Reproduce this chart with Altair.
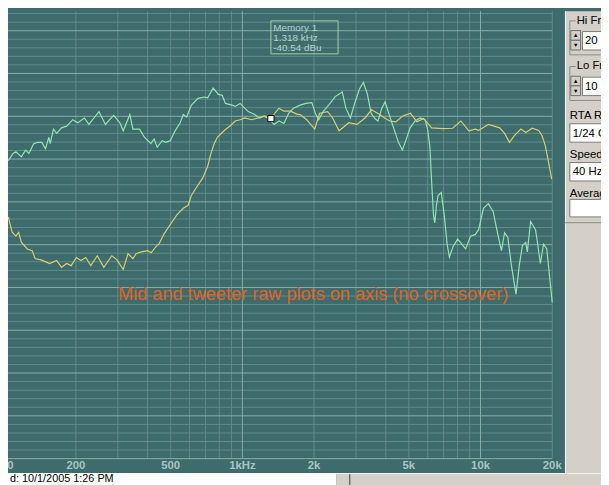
import altair as alt
import pandas as pd

# ---------------- data ----------------
MID_HZ = [104, 109, 112, 118, 123, 127, 133, 138, 144, 149, 154, 156, 161, 166, 174, 183, 194, 204, 217, 227,
          238, 250, 266, 288, 306, 316, 337, 347, 370, 388, 413, 426, 439, 461, 476, 498, 522, 548, 565, 583,
          611, 651, 693, 715, 754, 793, 823, 849, 905, 933, 978, 1058, 1126, 1180, 1237, 1293, 1359, 1425, 1494, 1565,
          1641, 1748, 1849, 1957, 2032, 2090, 2190, 2318, 2453, 2627, 2720, 2843, 2961, 3103, 3222, 3345, 3474, 3607,
          3710, 3852, 3974, 4116, 4315, 4523, 4696, 4876, 5062, 5307, 5579, 5848, 5998, 6130, 6229, 6347, 6425, 6528,
          6634, 6844, 7040, 7242, 7400, 7662, 8009, 8340, 8659, 9078, 9515, 9815, 10287, 10784, 11303, 11703, 12234,
          12620, 13018, 13482, 14092, 14537, 14996, 15484, 15719, 16230, 17011, 17383, 17830, 18393, 18974, 19461, 20000]
MID_DB = [-50.4, -48.7, -48.3, -49.5, -47.9, -48.7, -46.4, -46.1, -46.1, -47.6, -44.9, -46.4, -43.0, -44.0, -42.7,
          -42.3, -40.8, -41.5, -40.4, -41.9, -40.4, -38.9, -41.9, -39.8, -41.5, -43.4, -39.6, -43.0, -43.0, -44.9,
          -46.4, -45.3, -47.2, -45.7, -46.1, -45.7, -43.4, -41.5, -39.6, -40.2, -37.4, -35.8, -35.5, -35.7, -33.4,
          -34.9, -35.1, -37.0, -37.4, -37.7, -37.0, -38.9, -39.6, -40.4, -40.0, -40.6, -41.9, -41.1, -41.7, -39.3,
          -38.1, -37.4, -37.0, -36.8, -39.5, -40.8, -38.8, -37.2, -35.4, -34.3, -38.1, -40.4, -37.0, -33.6, -32.1,
          -34.7, -39.3, -40.6, -41.1, -38.1, -36.6, -39.3, -42.7, -46.1, -47.9, -45.4, -42.7, -41.1, -40.4, -40.8,
          -43.1, -47.2, -55.1, -63.1, -64.9, -60.8, -58.5, -57.8, -63.1, -69.9, -72.9, -70.5, -68.7, -69.9, -71.0,
          -68.0, -67.6, -66.5, -61.5, -60.4, -62.3, -66.5, -71.4, -67.2, -68.3, -74.9, -81.6, -74.9, -70.2, -69.5,
          -71.7, -64.6, -66.5, -69.9, -74.4, -69.9, -71.0, -77.1, -83.5]

TW_HZ = [104, 108, 112, 115, 118, 125, 131, 135, 142, 148, 155, 166, 174, 183, 191, 201, 210, 220, 231, 246,
         262, 283, 297, 316, 331, 347, 358, 376, 400, 414, 433, 446, 468, 498, 530, 565, 592, 611, 640, 682,
         715, 737, 761, 785, 823, 849, 890, 933, 978, 1025, 1092, 1163, 1237, 1318, 1381, 1425, 1494, 1592, 1694,
         1748, 1862, 2013, 2110, 2282, 2392, 2547, 2799, 3027, 3275, 3485, 3772, 3954, 4155, 4411, 4696, 5077,
         5409, 5762, 6229, 6956, 7643, 8262, 8932, 9515, 9815, 10784, 12038, 12620, 13230, 13867, 14768, 15484,
         16478, 17547, 18103, 18692, 19282, 19892]
TW_DB = [-63.5, -67.1, -68.0, -67.1, -69.4, -71.0, -71.4, -73.3, -73.5, -73.9, -74.4, -73.7, -75.3, -74.4, -74.9,
         -73.0, -73.7, -73.0, -74.9, -72.6, -75.3, -72.6, -73.5, -75.8, -72.1, -73.3, -72.1, -71.7, -71.4, -71.9,
         -70.5, -69.9, -67.6, -65.3, -63.1, -61.5, -60.8, -58.5, -56.7, -54.4, -51.7, -48.8, -46.5, -44.9, -43.8,
         -43.1, -42.2, -41.1, -40.8, -40.4, -40.8, -40.4, -39.9, -40.54, -39.0, -38.1, -38.8, -38.8, -39.5, -39.6,
         -40.8, -43.0, -39.3, -38.9, -40.4, -43.4, -41.5, -41.9, -40.4, -38.5, -39.6, -40.4, -41.1, -41.3, -40.0,
         -39.3, -41.3, -40.5, -42.7, -42.9, -42.8, -41.1, -43.4, -43.0, -43.3, -41.9, -42.7, -44.0, -46.1, -44.5,
         -43.0, -43.8, -42.8, -43.3, -44.5, -46.8, -50.6, -54.7]

TICK_HZ = [100, 200, 500, 1000, 2000, 5000, 10000, 20000]
TICK_LABELS = ["100", "200", "500", "1kHz", "2k", "5k", "10k", "20k"]
MAJOR_HZ = [100, 1000, 10000]
MINOR_HZ = [200, 300, 400, 500, 600, 700, 800, 900, 2000, 3000, 4000, 5000, 6000, 7000, 8000, 9000, 20000]
MAJOR_DB = [-20, -30, -40, -50, -60, -70, -80, -90, -100, -110, -120]
MINOR_DB = [d for d in range(-118, -14, 2) if d % 10 != 0]

MEMORY_HZ = 1318
MEMORY_DB = -40.54
MEMORY_LINES = ["Memory 1", "1.318 kHz", "-40.54 dBu"]
NOTE = "Mid and tweeter raw plots on axis (no crossover)"

# ---------------- layout / style ----------------
W, H = 601, 477
SX, SY = W / 609, H / 485
F_MIN, F_MAX = 103.75, 32048
DB_MIN, DB_MAX = -125.42, -15.44
TEAL = "#3e6b6b"
GRID_MINOR = "#5f8c8b"
GRID_MAJOR = "#88b0ad"
GREEN = "#92e6b0"
YELLOW = "#d8ce72"
GRAY = "#d4d0c8"
FONT = "Liberation Sans"


def px(v):
    return v * SX


def py(v):
    return v * SY


XS = alt.Scale(type="log", domain=[F_MIN, F_MAX], nice=False, zero=False)
YS = alt.Scale(domain=[DB_MIN, DB_MAX], nice=False, zero=False)
ONE = pd.DataFrame({"k": [0]})


def X(field):
    return alt.X(field, type="quantitative", scale=XS, axis=None)


def Y(field):
    return alt.Y(field, type="quantitative", scale=YS, axis=None)


def box(x0, y0, x1, y1, fill=None, stroke=None, sw=1):
    kw = {}
    kw["fill"] = fill if fill else "transparent"
    if stroke:
        kw["stroke"] = stroke
        kw["strokeWidth"] = sw
    return alt.Chart(ONE).mark_rect(**kw).encode(
        x=alt.value(px(x0)), x2=alt.value(px(x1)), y=alt.value(py(y0)), y2=alt.value(py(y1)))


def label(txt, x, y, size=12, color="#000000", align="left", weight="normal", font=FONT):
    return alt.Chart(ONE).mark_text(text=txt, align=align, baseline="middle", fontSize=size,
                                    color=color, fontWeight=weight, font=font).encode(
        x=alt.value(px(x)), y=alt.value(py(y)))


layers = []

# grid
hmin = pd.DataFrame({"db": MINOR_DB, "fa": 100, "fb": 20000})
hmaj = pd.DataFrame({"db": MAJOR_DB, "fa": 100, "fb": 20000})
vmin = pd.DataFrame({"f": MINOR_HZ, "ya": -120, "yb": DB_MAX})
vmaj = pd.DataFrame({"f": MAJOR_HZ, "ya": -120, "yb": DB_MAX})
layers.append(alt.Chart(hmin).mark_rule(color=GRID_MINOR, strokeWidth=1).encode(
    x=X("fa"), x2="fb", y=Y("db")))
layers.append(alt.Chart(vmin).mark_rule(color=GRID_MINOR, strokeWidth=1).encode(
    x=X("f"), y=Y("ya"), y2="yb"))
layers.append(alt.Chart(hmaj).mark_rule(color=GRID_MAJOR, strokeWidth=1).encode(
    x=X("fa"), x2="fb", y=Y("db")))
layers.append(alt.Chart(vmaj).mark_rule(color=GRID_MAJOR, strokeWidth=1).encode(
    x=X("f"), y=Y("ya"), y2="yb"))

# curves
mid = pd.DataFrame({"f": MID_HZ, "db": MID_DB})
tw = pd.DataFrame({"f": TW_HZ, "db": TW_DB})
layers.append(alt.Chart(mid).mark_line(color=GREEN, strokeWidth=1.2).encode(x=X("f"), y=Y("db")))
layers.append(alt.Chart(tw).mark_line(color=YELLOW, strokeWidth=1.2).encode(x=X("f"), y=Y("db")))

# memory marker
mem = pd.DataFrame({"f": [MEMORY_HZ], "db": [MEMORY_DB]})
layers.append(alt.Chart(mem).mark_point(shape="square", size=40, filled=True, fill="#ffffff",
                                        stroke="#000000", strokeWidth=1, opacity=1).encode(
    x=X("f"), y=Y("db")))

# memory box
layers.append(box(270, 10, 339, 44, stroke="#9fd3a8"))
for i, t in enumerate(MEMORY_LINES):
    layers.append(label(t, 272.5, 17 + i * 10.6, size=10, color="#b4d4ce"))

# axis labels
ticks = pd.DataFrame({"f": TICK_HZ, "lab": TICK_LABELS})
layers.append(alt.Chart(ticks).mark_text(fontSize=11.5, fontWeight="bold", color="#a9c4c4", font=FONT,
                                         baseline="middle").encode(
    x=X("f"), y=alt.value(py(468.5)), text="lab:N"))

# annotation
layers.append(label(NOTE, 113, 292, size=18.4, color="#e2621f"))

# right side GUI panel (only the parts visible in the window)
layers.append(box(572, 0, 612, 490, fill=GRAY))
layers.append(alt.Chart(ONE).mark_rule(color="#f4f4f4", strokeWidth=1).encode(
    x=alt.value(px(572.5)), y=alt.value(0), y2=alt.value(py(476))))
for (g0, g1) in [(10, 45), (57, 92)]:
    layers.append(box(577, g0, 615, g1, stroke="#8a8a8a"))
layers.append(box(583, 4, 612, 16, fill=GRAY))
layers.append(label("Hi Fr", 584, 10, size=11.5))
layers.append(box(583, 51, 612, 63, fill=GRAY))
layers.append(label("Lo Fr", 584, 57, size=11.5))
for (t0, val) in [(20, "20"), (67, "10")]:
    layers.append(box(578, t0, 588, t0 + 10, fill=GRAY, stroke="#6e6e6e"))
    layers.append(box(578, t0 + 10, 588, t0 + 20, fill=GRAY, stroke="#6e6e6e"))
    layers.append(box(590, t0 + 1, 614, t0 + 20, fill="#ffffff", stroke="#7a7a7a"))
    layers.append(label("▲", 583, t0 + 5, size=6, align="center"))
    layers.append(label("▼", 583, t0 + 15, size=6, align="center"))
    layers.append(label(val, 592.5, t0 + 11, size=11.5))
layers.append(label("RTA R", 577, 108, size=11.5))
layers.append(box(577, 116, 614, 135, fill="#ffffff", stroke="#7a7a7a"))
layers.append(label("1/24 O", 580, 126.5, size=11.5))
layers.append(label("Speed", 577, 148, size=11.5))
layers.append(box(577, 156, 614, 175, fill="#ffffff", stroke="#7a7a7a"))
layers.append(label("40 Hz", 580, 166, size=11.5))
layers.append(label("Averag", 577, 188, size=11.5))
layers.append(box(577, 194, 614, 212, fill="#ffffff", stroke="#7a7a7a"))
layers.append(alt.Chart(ONE).mark_rule(color="#8a8a8a", strokeWidth=1).encode(
    x=alt.value(px(572)), x2=alt.value(px(612)), y=alt.value(py(218))))

# status bar
layers.append(box(-2, 476, 337, 490, fill="#ffffff"))
layers.append(box(337, 476, 612, 490, fill=GRAY))
layers.append(alt.Chart(ONE).mark_rule(color="#404040", strokeWidth=1).encode(
    x=alt.value(px(351)), y=alt.value(py(477)), y2=alt.value(py(490))))
layers.append(alt.Chart(ONE).mark_rule(color="#f4f4f4", strokeWidth=1).encode(
    x=alt.value(px(337)), x2=alt.value(px(612)), y=alt.value(py(476.5))))
layers.append(label("d: 10/1/2005  1:26 PM", 2, 482, size=11))

chart = alt.layer(*layers).properties(
    width=W, height=H, padding=0, background=TEAL,
    autosize=alt.AutoSizeParams(type="none"),
).configure_view(stroke=None, fill=TEAL)

chart.save("out.html", embed_options={"renderer": "svg", "actions": False})
